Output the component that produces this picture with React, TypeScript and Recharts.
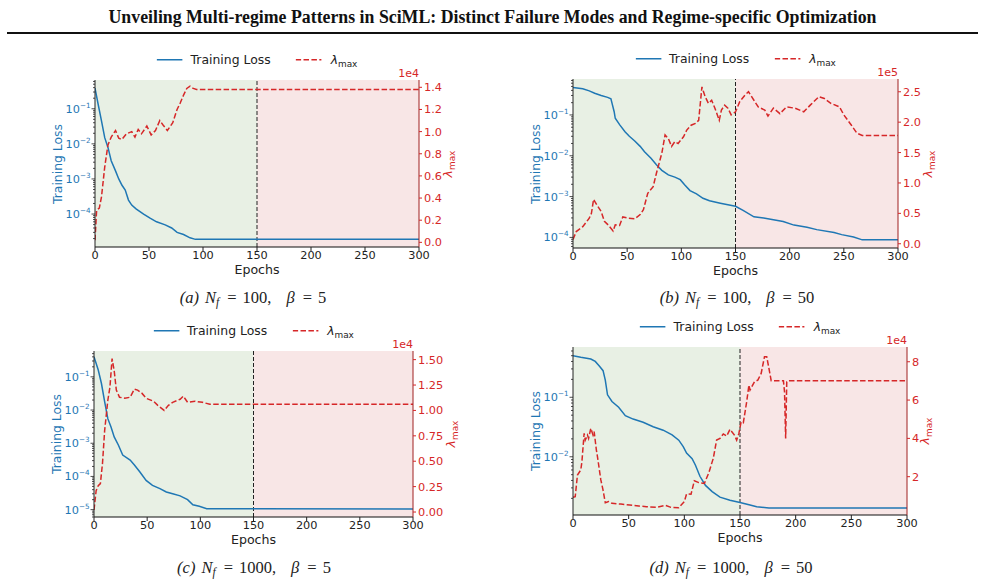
import React from 'react';
import {
  ComposedChart, Line, XAxis, YAxis, ReferenceArea, ReferenceLine,
} from 'recharts';

const BLUE = '#1f77b4';
const RED = '#d62728';
const GREEN_BG = '#e8f0e4';
const RED_BG = '#f8e6e6';

const epochTicks = [0, 50, 100, 150, 200, 250, 300];

// [epoch, value]
const lossA = [
  [0, 0.39], [3, 0.13], [6, 0.045], [9, 0.015], [12, 0.0079], [15, 0.0033], [19, 0.0017],
  [22, 0.001], [25, 0.00066], [28, 0.00048], [31, 0.00025], [34, 0.00018], [38, 0.00014],
  [45, 0.0001], [51, 7.6e-5], [57, 6.0e-5], [65, 4.9e-5], [71, 4.0e-5], [76, 3.0e-5],
  [82, 2.6e-5], [88, 2.1e-5], [93, 1.9e-5], [300, 1.9e-5],
];
const lamA = [
  [0, 200], [1.5, 2900], [4, 3100], [6, 4100], [9, 6800], [12, 8800], [15, 9500], [19, 10100],
  [22, 9400], [25, 9300], [29, 9800], [34, 10000], [37, 9500], [40, 10200], [43, 9800],
  [48, 10500], [52, 9700], [56, 10100], [60, 11000], [63, 10600], [67, 10100], [72, 10800],
  [76, 12000], [79, 12600], [82, 13300], [85, 13900], [88, 14100], [91, 13900], [94, 13800],
  [300, 13800],
];

const lossB = [
  [0, 0.47], [9, 0.44], [15, 0.39], [20, 0.34], [26, 0.3], [32, 0.27], [35, 0.25], [36, 0.195],
  [38, 0.12], [39, 0.083], [43, 0.058], [48, 0.039], [52, 0.03], [57, 0.023], [62, 0.017],
  [66, 0.0126], [72, 0.0087], [77, 0.006], [82, 0.0044], [88, 0.0034], [94, 0.003],
  [99, 0.0026], [103, 0.00195], [108, 0.0014], [114, 0.00117], [120, 0.00091], [126, 0.00079],
  [136, 0.00069], [143, 0.00063], [150, 0.00058], [157, 0.00046], [167, 0.00032], [176, 0.0003],
  [185, 0.00027], [194, 0.000245], [204, 0.0002], [216, 0.000178], [225, 0.000155],
  [241, 0.000132], [248, 0.000117], [259, 0.000102], [267, 8.7e-5], [300, 8.7e-5],
];
const lamB = [
  [0, 7000], [3, 20000], [6, 24000], [9, 28000], [12, 35000], [15, 42000], [17, 50000],
  [19, 73000], [22, 64000], [26, 53000], [29, 37000], [33, 30000], [37, 21000], [39, 31000],
  [43, 30000], [46, 44000], [51, 42000], [57, 41000], [62, 48000], [65, 56000], [69, 83000],
  [74, 94000], [77, 116000], [82, 149000], [85, 179000], [88, 173000], [91, 160000],
  [94, 168000], [97, 165000], [102, 176000], [105, 187000], [109, 195000], [113, 198000],
  [116, 203000], [119, 258000], [122, 242000], [125, 231000], [128, 236000], [131, 223000],
  [135, 203000], [137, 220000], [140, 228000], [143, 223000], [146, 212000], [150, 217000],
  [154, 234000], [159, 245000], [162, 250000], [167, 236000], [171, 225000], [177, 220000],
  [180, 210000], [185, 223000], [191, 214000], [197, 225000], [205, 223000], [213, 217000],
  [219, 228000], [227, 242000], [232, 239000], [238, 231000], [246, 225000], [250, 212000],
  [257, 195000], [262, 182000], [267, 178000], [300, 178000],
];

const lossC = [
  [0, 0.4], [4, 0.16], [7, 0.063], [10, 0.018], [13, 0.0055], [16, 0.0031], [19, 0.00155],
  [23, 0.00087], [27, 0.00044], [34, 0.00031], [38, 0.00022], [43, 0.000138], [49, 7.6e-5],
  [55, 5.4e-5], [62, 4.3e-5], [68, 3.4e-5], [74, 3.0e-5], [81, 2.6e-5], [88, 2.0e-5],
  [93, 1.4e-5], [99, 1.26e-5], [106, 1.07e-5], [300, 1.05e-5],
];
const lamC = [
  [0, 200], [2, 2100], [4, 2600], [6, 2800], [8, 4800], [10, 8000], [13, 11000], [15, 12300],
  [17, 15100], [19, 13900], [21, 12000], [24, 11300], [29, 11200], [34, 11300], [38, 12100],
  [41, 12000], [45, 11700], [49, 11200], [56, 10900], [60, 10500], [66, 10000], [70, 10500],
  [74, 10800], [81, 11100], [84, 11400], [88, 10800], [95, 10900], [102, 10800], [109, 10600],
  [300, 10600],
];

const lossD = [
  [0, 0.5], [7, 0.47], [16, 0.44], [20, 0.4], [24, 0.33], [27, 0.28], [29, 0.195], [31, 0.11],
  [35, 0.085], [41, 0.068], [47, 0.049], [54, 0.043], [63, 0.038], [72, 0.032], [81, 0.028],
  [89, 0.0234], [95, 0.019], [99, 0.0148], [102, 0.0115], [107, 0.0093], [110, 0.0072],
  [114, 0.0047], [119, 0.0033], [125, 0.0026], [132, 0.0021], [141, 0.00186], [150, 0.0017],
  [159, 0.00155], [165, 0.00145], [176, 0.00138], [300, 0.00138],
];
const lamD = [
  [0, 9200], [2, 9600], [4, 20900], [7, 23500], [8, 27800], [10, 42600], [11, 39100],
  [13, 41700], [14, 40000], [16, 45200], [18, 41700], [19, 43500], [21, 33900], [22, 30400],
  [25, 18300], [27, 13000], [29, 6400], [32, 7000], [35, 6100], [43, 5700], [51, 5200],
  [59, 4700], [66, 4300], [75, 4000], [83, 5000], [88, 4000], [95, 3800], [100, 7000],
  [102, 11000], [106, 10800], [109, 17900], [113, 16900], [118, 16500], [122, 22100],
  [126, 29600], [129, 39100], [132, 40000], [135, 42300], [138, 41200], [141, 44700],
  [145, 41700], [147, 39100], [149, 42600], [151, 48700], [153, 48200], [156, 59100],
  [158, 67800], [159, 65200], [163, 69600], [166, 70400], [169, 73900], [172, 82600],
  [174, 82600], [176, 76500], [178, 70100], [189, 70100], [190, 64300], [191, 40000],
  [192, 69600], [193, 70100], [300, 70100],
];

const lamTicksA = [0, 2000, 4000, 6000, 8000, 10000, 12000, 14000];
const lamTicksB = [0, 50000, 100000, 150000, 200000, 250000];
const lamTicksC = [0, 2500, 5000, 7500, 10000, 12500, 15000];
const lamTicksD = [20000, 40000, 60000, 80000];

function merge(loss: number[][], lam: number[][]) {
  const rows: { epoch: number; loss?: number; lam?: number }[] = [
    ...loss.map(([epoch, v]) => ({ epoch, loss: v })),
    ...lam.map(([epoch, v]) => ({ epoch, lam: v })),
  ];
  return rows.sort((a, b) => a.epoch - b.epoch);
}

function logTicks(lo: number, hi: number) {
  const out: number[] = [];
  for (let e = Math.floor(Math.log10(lo)); e <= Math.ceil(Math.log10(hi)); e++) {
    for (let m = 1; m <= 9; m++) {
      const v = m * Math.pow(10, e);
      if (v >= lo && v <= hi) out.push(v);
    }
  }
  return out;
}

function LogTick(props: any) {
  const { x, y, payload } = props;
  const lg = Math.log10(payload.value);
  const e = Math.round(lg);
  const major = Math.abs(lg - e) < 1e-6;
  return (
    <g>
      <line x1={x} x2={x - (major ? 3.5 : 2)} y1={y} y2={y} stroke="#222" strokeWidth={0.8} />
      {major && (
        <text x={x - 4.5} y={y + 4} textAnchor="end" fill={BLUE} fontSize={11.3}>
          10<tspan dy={-5} fontSize={7.2}>{'\u2212' + -e}</tspan>
        </text>
      )}
    </g>
  );
}

function LamSym({ size }: { size: number }) {
  return (
    <span>
      <span style={{ fontStyle: 'italic', fontSize: size }}>λ</span>
      <span style={{ fontSize: size * 0.72, position: 'relative', top: size * 0.22 }}>max</span>
    </span>
  );
}

type PanelProps = {
  px: number; py: number; pw: number; ph: number;
  loss: number[][]; lam: number[][];
  lossDomain: [number, number]; lamDomain: [number, number];
  lamTicks: number[]; lamFmt: (v: number) => string; offsetText: string;
  lamLabelDx: number;
  caption: React.ReactNode; capX: number; capY: number;
};

function Panel(p: PanelProps) {
  const data = merge(p.loss, p.lam);
  const lt = logTicks(p.lossDomain[0], p.lossDomain[1]);
  const abs = (s: React.CSSProperties): React.CSSProperties => ({ position: 'absolute', whiteSpace: 'nowrap', lineHeight: 1, ...s });
  return (
    <>
      <div style={abs({ left: p.px - 70, top: p.py - 10 })}>
        <ComposedChart width={p.pw + 130} height={p.ph + 40} data={data}
          margin={{ top: 10, right: 0, bottom: 0, left: 0 }}>
          <XAxis dataKey="epoch" type="number" domain={[0, 300]} ticks={epochTicks}
            allowDataOverflow height={30} tickSize={4} tickMargin={0} interval={0}
            tick={{ fontSize: 11.3, fill: '#222' }} tickLine={{ stroke: '#222' }}
            axisLine={{ stroke: '#111' }} />
          <XAxis xAxisId="top" orientation="top" type="number" domain={[0, 300]}
            allowDataOverflow height={0} tick={false} tickLine={false}
            axisLine={{ stroke: '#222' }} />
          <YAxis yAxisId="loss" scale="log" domain={p.lossDomain} allowDataOverflow
            ticks={lt} interval={0} width={70} tickLine={false} tickSize={0} tickMargin={0}
            tick={(t: any) => <LogTick {...t} />} axisLine={{ stroke: '#222' }} />
          <YAxis yAxisId="lam" orientation="right" domain={p.lamDomain} allowDataOverflow
            ticks={p.lamTicks} interval={0} width={60} tickSize={3} tickMargin={2}
            tickFormatter={p.lamFmt} tick={{ fontSize: 11.3, fill: RED }}
            tickLine={{ stroke: RED }} axisLine={{ stroke: '#a02020' }} />
          <ReferenceArea yAxisId="loss" x1={0} x2={150} fill={GREEN_BG} fillOpacity={1} stroke="none" />
          <ReferenceArea yAxisId="loss" x1={150} x2={300} fill={RED_BG} fillOpacity={1} stroke="none" />
          <ReferenceLine yAxisId="loss" x={150} stroke="#222" strokeDasharray="4 2" strokeWidth={1} />
          <Line yAxisId="loss" dataKey="loss" type="linear" stroke={BLUE} strokeWidth={1.5}
            dot={false} connectNulls isAnimationActive={false} />
          <Line yAxisId="lam" dataKey="lam" type="linear" stroke={RED} strokeWidth={1.5}
            strokeDasharray="5.5 2.4" dot={false} connectNulls isAnimationActive={false} />
        </ComposedChart>
      </div>
      {/* legend */}
      <div style={abs({ left: p.px + p.pw / 2, top: p.py - 20, transform: 'translate(-50%, -50%)',
        display: 'flex', alignItems: 'center', fontSize: 12.4, color: '#222' })}>
        <svg width={26} height={4}><line x1={0} x2={26} y1={2} y2={2} stroke={BLUE} strokeWidth={1.6} /></svg>
        <span style={{ marginLeft: 8 }}>Training Loss</span>
        <svg width={26} height={4} style={{ marginLeft: 25 }}>
          <line x1={0} x2={26} y1={2} y2={2} stroke={RED} strokeWidth={1.6} strokeDasharray="5.5 2.4" />
        </svg>
        <span style={{ marginLeft: 9 }}><LamSym size={12.4} /></span>
      </div>
      {/* axis titles */}
      <div style={abs({ left: p.px - 37, top: p.py + p.ph / 2, transform: 'translate(-50%, -50%) rotate(-90deg)',
        fontSize: 12.4, color: BLUE })}>Training Loss</div>
      <div style={abs({ left: p.px + p.pw + p.lamLabelDx, top: p.py + p.ph / 2,
        transform: 'translate(-50%, -50%) rotate(-90deg)', color: RED })}><LamSym size={12.4} /></div>
      <div style={abs({ left: p.px + p.pw, top: p.py - 12, transform: 'translateX(-100%)',
        fontSize: 11, color: RED })}>{p.offsetText}</div>
      <div style={abs({ left: p.px + p.pw / 2, top: p.py + p.ph + 23, transform: 'translate(-50%, -50%)',
        fontSize: 12.6, color: '#222' })}>Epochs</div>
      {/* caption */}
      <div style={abs({ left: p.capX, top: p.capY, transform: 'translate(-50%, -50%)',
        fontFamily: "'Liberation Serif', serif", fontSize: 16.5, color: '#222' })}>{p.caption}</div>
    </>
  );
}

function Caption({ tag, nf, beta }: { tag: string; nf: string; beta: string }) {
  const eq = <span style={{ margin: '0 6px 0 8px' }}>=</span>;
  return (
    <span>
      <i>({tag})</i>
      <i style={{ marginLeft: 6 }}>N</i>
      <sub style={{ fontSize: 11.5, verticalAlign: '-3px', lineHeight: 0 }}><i>f</i></sub>
      {eq}{nf},
      <i style={{ marginLeft: 15 }}>β</i>
      {eq}{beta}
    </span>
  );
}

export default function App() {
  return (
    <div style={{ position: 'absolute', left: 0, top: 0, width: 985, height: 585, background: '#fff',
      fontFamily: "'DejaVu Sans', sans-serif" }}>
      <svg width={985} height={40} style={{ position: 'absolute', left: 0, top: 0 }}>
        <text x={492.5} y={23} textAnchor="middle" fontFamily="'Liberation Serif', serif"
          fontWeight="bold" fontSize={18} textLength={768} lengthAdjust="spacingAndGlyphs" fill="#111">
          Unveiling Multi-regime Patterns in SciML: Distinct Failure Modes and Regime-specific Optimization
        </text>
        <rect x={7} y={32} width={971} height={2} fill="#111" />
      </svg>
      <Panel px={95} py={80} pw={324} ph={167} loss={lossA} lam={lamA}
        lossDomain={[1.15e-5, 0.66]} lamDomain={[-420, 14660]} lamTicks={lamTicksA}
        lamFmt={(v) => (v / 1e4).toFixed(1)} offsetText="1e4" lamLabelDx={28}
        caption={<Caption tag="a" nf="100" beta="5" />} capX={253} capY={298} />
      <Panel px={573} py={79} pw={325} ph={169} loss={lossB} lam={lamB}
        lossDomain={[5.5e-5, 0.76]} lamDomain={[-7000, 271000]} lamTicks={lamTicksB}
        lamFmt={(v) => (v / 1e5).toFixed(1)} offsetText="1e5" lamLabelDx={29}
        caption={<Caption tag="b" nf="100" beta="50" />} capX={737} capY={298} />
      <Panel px={94} py={351} pw={319} ph={166} loss={lossC} lam={lamC}
        lossDomain={[6.0e-6, 0.6]} lamDomain={[-490, 15850]} lamTicks={lamTicksC}
        lamFmt={(v) => (v / 1e4).toFixed(2)} offsetText="1e4" lamLabelDx={37}
        caption={<Caption tag="c" nf="1000" beta="5" />} capX={254} capY={568} />
      <Panel px={573} py={347} pw={334} ph={168} loss={lossD} lam={lamD}
        lossDomain={[1.05e-3, 0.7]} lamDomain={[0, 87700]} lamTicks={lamTicksD}
        lamFmt={(v) => (v / 1e4).toFixed(0)} offsetText="1e4" lamLabelDx={17}
        caption={<Caption tag="d" nf="1000" beta="50" />} capX={731} capY={568} />
    </div>
  );
}
